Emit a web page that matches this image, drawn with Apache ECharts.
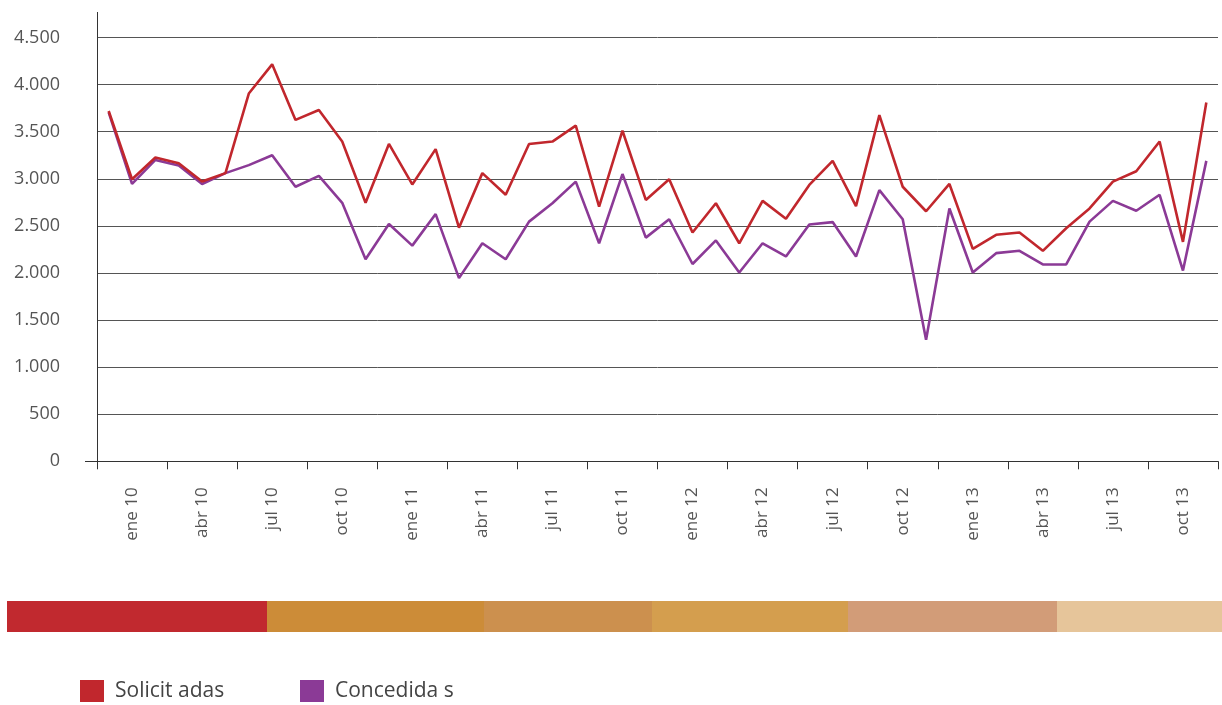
<!DOCTYPE html>
<html>
<head>
<meta charset="utf-8">
<title>Solicitadas y concedidas</title>
<script src="https://cdn.jsdelivr.net/npm/echarts@6/dist/echarts.min.js"></script>
<style>
  html, body { margin: 0; padding: 0; background: #fff; }
  #chart { width: 1222px; height: 705px; }
</style>
</head>
<body>
<div id="chart"></div>
<script>
// Monthly categories, ene 10 – dic 13
const months = [
  'ene 10','feb 10','mar 10','abr 10','may 10','jun 10','jul 10','ago 10','sep 10','oct 10','nov 10','dic 10',
  'ene 11','feb 11','mar 11','abr 11','may 11','jun 11','jul 11','ago 11','sep 11','oct 11','nov 11','dic 11',
  'ene 12','feb 12','mar 12','abr 12','may 12','jun 12','jul 12','ago 12','sep 12','oct 12','nov 12','dic 12',
  'ene 13','feb 13','mar 13','abr 13','may 13','jun 13','jul 13','ago 13','sep 13','oct 13','nov 13','dic 13'
];

// Quarter labels shown on the axis, one per three months
const quarterLabels = [
  'ene 10','abr 10','jul 10','oct 10',
  'ene 11','abr 11','jul 11','oct 11',
  'ene 12','abr 12','jul 12','oct 12',
  'ene 13','abr 13','jul 13','oct 13'
];

const solicitadas = [
  3720, 2995, 3225, 3165, 2970, 3060, 3905, 4215, 3625, 3730, 3395, 2745,
  3370, 2940, 3315, 2480, 3060, 2830, 3370, 3395, 3565, 2705, 3510, 2775,
  2995, 2430, 2740, 2315, 2765, 2575, 2935, 3190, 2710, 3675, 2915, 2655,
  2945, 2255, 2405, 2430, 2235, 2475, 2685, 2970, 3080, 3395, 2330, 3810
];

const concedidas = [
  3705, 2945, 3200, 3140, 2945, 3060, 3145, 3250, 2915, 3030, 2745, 2145,
  2520, 2290, 2625, 1945, 2315, 2145, 2545, 2740, 2970, 2315, 3050, 2375,
  2570, 2095, 2345, 2005, 2315, 2175, 2515, 2540, 2175, 2880, 2570, 1290,
  2685, 2005, 2210, 2235, 2090, 2090, 2545, 2765, 2660, 2830, 2025, 3190
];

// Decorative colour strip under the chart
const strip = [
  { x0: 7,    x1: 267,  color: '#C1292F' },
  { x0: 267,  x1: 484,  color: '#CC8C38' },
  { x0: 484,  x1: 652,  color: '#CC904E' },
  { x0: 652,  x1: 848,  color: '#D49E4E' },
  { x0: 848,  x1: 1057, color: '#D29C78' },
  { x0: 1057, x1: 1222, color: '#E6C59A' }
];

const FONT = '"Open Sans", "DejaVu Sans", sans-serif';
const RED = '#C1272D';
const PURPLE = '#8B3A96';

const fmtThousands = v => String(v).replace(/\B(?=(\d{3})+(?!\d))/g, '.');

const chart = echarts.init(document.getElementById('chart'), null, { renderer: 'canvas' });

const graphic = strip.map(s => ({
  type: 'rect',
  shape: { x: s.x0, y: 601, width: s.x1 - s.x0, height: 31 },
  style: { fill: s.color },
  silent: true
}));
// extension of the vertical axis above the top gridline, and stub left of zero
graphic.push({
  type: 'line',
  shape: { x1: 97.5, y1: 12, x2: 97.5, y2: 38 },
  style: { stroke: '#333', lineWidth: 1 },
  silent: true
});
graphic.push({
  type: 'line',
  shape: { x1: 85, y1: 461.5, x2: 97, y2: 461.5 },
  style: { stroke: '#333', lineWidth: 1 },
  silent: true
});

const legendBase = {
  top: 680,
  icon: 'rect',
  itemWidth: 24,
  itemHeight: 22,
  padding: 0,
  selectedMode: false,
  textStyle: { fontFamily: FONT, fontSize: 21, color: '#444', padding: [0, 0, 0, 6] }
};

chart.setOption({
  animation: false,
  backgroundColor: '#fff',
  textStyle: { fontFamily: FONT },
  grid: { left: 97, right: 4, top: 37.5, bottom: 243.7, containLabel: false },
  legend: [
    Object.assign({}, legendBase, { left: 80, data: ['Solicit adas'] }),
    Object.assign({}, legendBase, { left: 300, data: ['Concedida s'] })
  ],
  xAxis: [
    {
      type: 'category',
      data: months,
      boundaryGap: true,
      position: 'bottom',
      axisLine: { show: false },
      axisTick: { show: false },
      axisLabel: { show: false },
      splitLine: { show: false }
    },
    {
      type: 'category',
      data: quarterLabels,
      boundaryGap: true,
      position: 'bottom',
      axisLine: { show: true, lineStyle: { color: '#333', width: 1 } },
      axisTick: { show: true, interval: 0, length: 8, lineStyle: { color: '#333' } },
      axisLabel: {
        interval: 0,
        rotate: 90,
        margin: 26,
        padding: [0, 0, 9, 0],
        fontSize: 17,
        color: '#555',
        fontFamily: FONT
      },
      splitLine: { show: false }
    }
  ],
  yAxis: {
    type: 'value',
    min: 0,
    max: 4500,
    interval: 500,
    axisLine: { show: true, lineStyle: { color: '#333', width: 1 } },
    axisTick: { show: false },
    axisLabel: {
      formatter: fmtThousands,
      fontSize: 18,
      margin: 37,
      color: '#555',
      fontFamily: FONT
    },
    splitLine: { show: true, lineStyle: { color: '#555', width: 1 } }
  },
  graphic: graphic,
  series: [
    {
      name: 'Concedida s',
      type: 'line',
      xAxisIndex: 0,
      data: concedidas,
      symbol: 'none',
      z: 3,
      itemStyle: { color: PURPLE },
      lineStyle: { color: PURPLE, width: 2.6 }
    },
    {
      name: 'Solicit adas',
      type: 'line',
      xAxisIndex: 0,
      data: solicitadas,
      symbol: 'none',
      z: 4,
      itemStyle: { color: RED },
      lineStyle: { color: RED, width: 2.6 }
    }
  ]
});
</script>
</body>
</html>
